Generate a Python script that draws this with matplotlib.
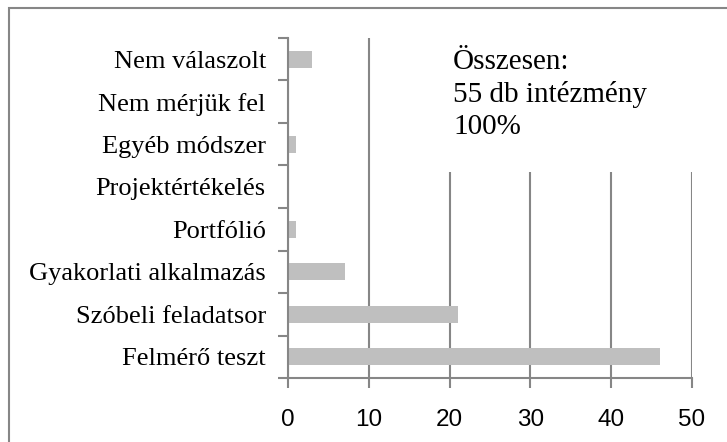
import matplotlib
matplotlib.use("Agg")
import matplotlib.pyplot as plt
from matplotlib.patches import Rectangle

categories = ["Felmérő teszt", "Szóbeli feladatsor", "Gyakorlati alkalmazás",
              "Portfólió", "Projektértékelés", "Egyéb módszer",
              "Nem mérjük fel", "Nem válaszolt"]
values = [46, 21, 7, 1, 0, 1, 0, 3]
xticks = [0, 10, 20, 30, 40, 50]
note = "Összesen:\n55 db intézmény\n100%"

axis_col = "#868686"
bar_col = "#BFBFBF"

fig = plt.figure(figsize=(7.27, 4.42), dpi=100)
ax = fig.add_axes([288 / 727, 1 - 378 / 442, 404 / 727, 340 / 442])

pos = list(range(len(categories)))
ax.barh(pos, values, height=0.4, color=bar_col, zorder=3)

ax.set_xlim(0, 50)
ax.set_ylim(-0.5, len(categories) - 0.5)
ax.set_xticks(xticks)
ax.set_xticklabels([str(t) for t in xticks], fontsize=17.5,
                   family=["Liberation Sans", "DejaVu Sans"])
ax.set_yticks(pos)
ax.set_yticklabels(categories, fontsize=19, family="Liberation Serif")
ax.set_yticks([p - 0.5 for p in pos] + [len(categories) - 0.5], minor=True)
ax.tick_params(axis="y", which="major", length=0, pad=16)
ax.tick_params(axis="y", which="minor", length=7, width=1.5, color=axis_col)
ax.tick_params(axis="x", length=7, width=1.5, color=axis_col, pad=15)

ax.grid(axis="x", color=axis_col, linewidth=1.5, zorder=1)
for s in ["top", "right"]:
    ax.spines[s].set_visible(False)
for s in ["left", "bottom"]:
    ax.spines[s].set_color(axis_col)
    ax.spines[s].set_linewidth(1.5)
    ax.spines[s].set_zorder(4)

# white box behind the note hides the upper gridlines
ax.add_patch(Rectangle((0.38, 1 - (172 - 38) / 340), 0.7, 0.5,
                       transform=ax.transAxes, facecolor="white",
                       edgecolor="none", zorder=2, clip_on=False))
ax.text(453 / 727, 1 - 49 / 442, note, transform=fig.transFigure,
        fontsize=21, family="Liberation Serif", va="top", ha="left",
        linespacing=1.3, zorder=5)

fig.patches.append(Rectangle((9 / 727, -0.1), 1.2, 1.1 - 8 / 442,
                             transform=fig.transFigure, fill=False,
                             edgecolor=axis_col, linewidth=1.5))

fig.savefig("out.png", dpi=100)
